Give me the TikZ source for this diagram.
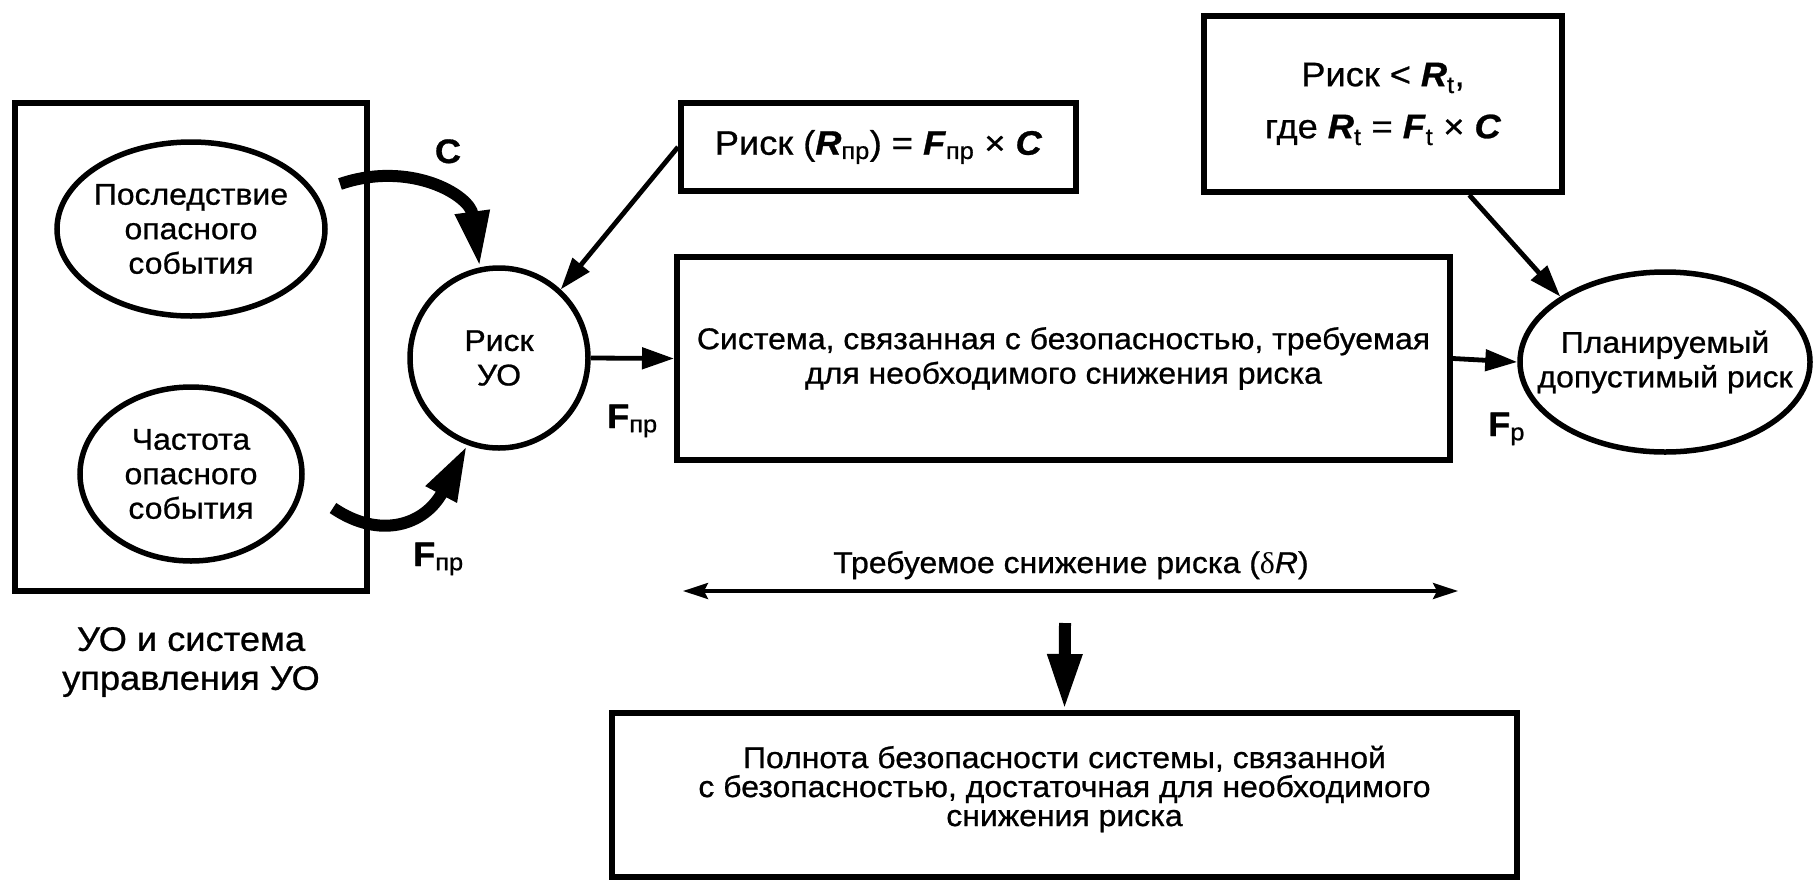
\documentclass[tikz,border=0pt]{standalone}
\usepackage{fontspec}
\setmainfont{Liberation Sans}[FakeStretch=1.065, FakeBold=0.8]
\newfontfamily\serifdelta{Liberation Serif}[FakeStretch=1.065]
\usetikzlibrary{arrows.meta,shapes.geometric,calc}
\begin{document}
\begin{tikzpicture}[x=1pt,y=-1pt,
  box/.style={draw, line width=6pt, rectangle, inner sep=0pt},
  ell/.style={draw, line width=5.5pt, ellipse, inner sep=0pt},
  txt/.style={inner sep=0pt, align=center, font=\fontsize{30}{34.5}\selectfont},
  thinarrow/.style={line width=4.8pt, -{Triangle[length=32pt,width=21pt]}},
  thickarrow/.style={line width=12pt, -{Triangle[length=56pt,width=32pt]}},
  lbl/.style={inner sep=0pt, font=\fontsize{34}{40}\selectfont\bfseries}]
\useasboundingbox (0,0) rectangle (1819,889);
\fill[white] (0,0) rectangle (1819,889);

% left block
\node[box, minimum width=352pt, minimum height=488pt] (leftbox) at (191,347) {};
\node[ell, minimum width=268pt, minimum height=174pt] (ell1) at (191,229) {};
\node[txt] (ell1t) at (ell1) {Последствие\\опасного\\события};
\node[ell, minimum width=222pt, minimum height=174pt] (ell2) at (191,474) {};
\node[txt] (ell2t) at (ell2) {Частота\\опасного\\события};
\node[txt, font=\fontsize{34}{39}\selectfont] (leftcap) at (191,662) {УО и система\\управления УО};

% risk circle
\node[ell, line width=5.5pt, minimum width=178pt, minimum height=180pt] (riskuo) at (499,358) {};
\node[txt] (riskuot) at (riskuo) {Риск\\УО};

% formula box
\node[box, minimum width=395pt, minimum height=88pt, font=\fontsize{34}{40}\selectfont] (formula) at (878.5,147)
  {Риск (\textbf{\textit{R}}\textsubscript{пр}) = \textbf{\textit{F}}\textsubscript{пр} × \textbf{\textit{C}}};

% Rt box
\node[box, minimum width=358pt, minimum height=176pt, align=center, font=\fontsize{34}{52}\selectfont] (rtbox) at (1383,104)
  {Риск < \textbf{\textit{R}}\textsubscript{t},\\где \textbf{\textit{R}}\textsubscript{t} = \textbf{\textit{F}}\textsubscript{t} × \textbf{\textit{C}}};

% main box
\node[box, minimum width=773pt, minimum height=203pt, align=center, font=\fontsize{30}{34.5}\selectfont] (mainbox) at (1063.5,358.5)
  {Система, связанная с безопасностью, требуемая\\для необходимого снижения риска};

% planned ellipse
\node[ell, minimum width=290pt, minimum height=180pt] (plan) at (1665,362) {};
\node[txt] (plant) at (plan) {Планируемый\\допустимый риск};

% bottom box
\node[box, minimum width=905pt, minimum height=164pt] (bottombox) at (1064.5,795) {};
\node[txt, font=\fontsize{30}{29}\selectfont] (bottomt) at ($(bottombox.center)+(0,-6)$)
  {Полнота безопасности системы, связанной\\с безопасностью, достаточная для необходимого\\снижения риска};

% labels
\node[lbl, anchor=base] (lblC) at (448,163) {C};
\node[lbl, anchor=base west] (lblF1) at (413,566) {F\textsubscript{\mdseries пр}};
\node[lbl, anchor=base west] (lblF2) at (607,428) {F\textsubscript{\mdseries пр}};
\node[lbl, anchor=base west] (lblF3) at (1488,436) {F\textsubscript{\mdseries р}};

% delta R
\node[inner sep=0pt, anchor=base, font=\fontsize{30}{34}\selectfont] (drlabel) at (1071,573)
  {Требуемое снижение риска ({\serifdelta δ}\textit{R})};
\coordinate (drl) at (683,591);
\coordinate (drr) at (1458,591);
\draw[line width=3.5pt, {Stealth[length=25pt,width=16pt,inset=4pt]}-{Stealth[length=25pt,width=16pt,inset=4pt]}] (drl) -- (drr);

% connectors
\coordinate (cstart) at (340,184);
\coordinate (fstart) at (333,508);
\draw[thickarrow] (cstart) .. controls (410,160) and (470,195) .. (riskuo.102);
\draw[thickarrow] (fstart) .. controls (380,540) and (425,525) .. (riskuo.250);
\draw[thinarrow] (formula.west) -- (riskuo.48);
\draw[thinarrow] (riskuo.east) -- (mainbox.west);
\draw[thinarrow] (mainbox.east) -- (plan.west);
\draw[thinarrow] ($(rtbox.south west)!0.737!(rtbox.south east)$) -- (plan.148);
\coordinate (downstart) at (1065,623);
\draw[line width=12pt, -{Triangle[length=56pt,width=32pt]}] (downstart) -- (bottombox.north);
\end{tikzpicture}
\end{document}
